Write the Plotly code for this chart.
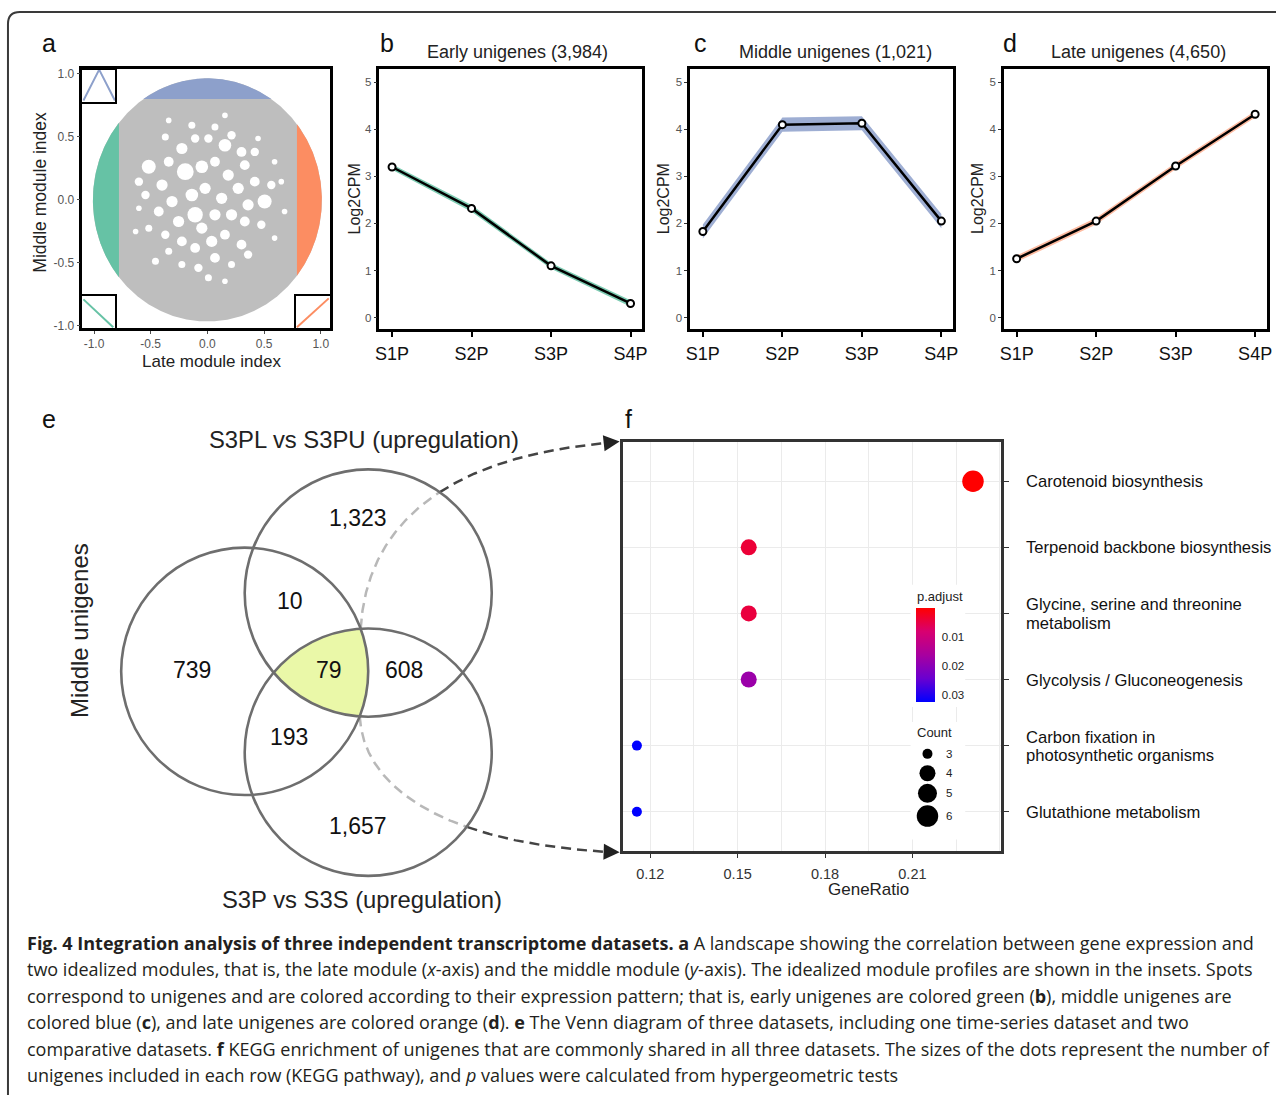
import numpy as np
import plotly.graph_objects as go

W, H = 1281, 1100
FONT = "Liberation Sans, Arial, sans-serif"
CAP_FONT = "Open Sans, Lato, sans-serif"

# ---------------- data ----------------
stages = ["S1P", "S2P", "S3P", "S4P"]
early_mean = [3.20, 2.32, 1.10, 0.30]
early_band = [0.06, 0.07, 0.06, 0.07]
middle_mean = [1.83, 4.10, 4.13, 2.05]
middle_band = [0.15, 0.15, 0.15, 0.15]
late_mean = [1.25, 2.05, 3.22, 4.32]
late_band = [0.07, 0.07, 0.07, 0.07]
profile_titles = ["Early unigenes (3,984)", "Middle unigenes (1,021)", "Late unigenes (4,650)"]
log_ticks = [0, 1, 2, 3, 4, 5]

# panel a: correlation landscape
landscape_radius = [1.01, 0.965]     # extent of the spot cloud (x, y)
early_cut = -0.78                    # late-module index below -> early unigenes
late_cut = 0.79                      # late-module index above -> late unigenes
middle_cut = 0.80                    # middle-module index above -> middle unigenes
# empty spots (gaps between unigene spots) read from the landscape: late index, middle index, size
gap_late = [-0.137, 0.155, 0.067, -0.341, -0.371, -0.225, -0.108, 0.009, 0.155, 0.213, 0.301, 0.418,
            -0.517, -0.341, -0.195, -0.049, 0.067, 0.184, 0.330, 0.418, 0.505, 0.564, -0.604, -0.546,
            -0.400, -0.312, -0.137, -0.020, 0.126, 0.272, 0.359, -0.429, -0.254, -0.108, -0.049, 0.067,
            0.213, 0.330, 0.476, -0.517, -0.371, -0.225, -0.108, 0.038, 0.155, 0.301, 0.067, -0.341,
            -0.458, -0.225, -0.079, 0.213, 0.359, 0.009, 0.155, -0.633, -0.604, 0.593, 0.652, 0.681,
            0.447, 0.593]
gap_middle = [0.592, 0.671, 0.579, 0.631, 0.500, 0.408, 0.487, 0.487, 0.434, 0.513, 0.381, 0.381,
              0.263, 0.303, 0.224, 0.263, 0.303, 0.197, 0.276, 0.145, -0.013, 0.118, 0.145, 0.039,
              0.118, -0.013, 0.039, 0.092, 0.013, 0.092, -0.039, -0.092, -0.171, -0.118, -0.224, -0.118,
              -0.118, -0.171, -0.197, -0.224, -0.276, -0.329, -0.381, -0.329, -0.276, -0.355, -0.460, -0.408,
              -0.487, -0.513, -0.539, -0.513, -0.434, -0.618, -0.645, -0.250, -0.066, -0.303, 0.145, -0.092,
              0.487, 0.303]
gap_size = [5, 4, 5, 4, 5, 8, 6, 6, 9, 6, 7, 6,
            10, 7, 12, 9, 7, 8, 7, 7, 10, 6, 6, 6,
            8, 8, 9, 8, 8, 8, 8, 7, 8, 11, 8, 8,
            8, 7, 6, 5, 6, 7, 7, 8, 7, 7, 7, 5,
            5, 5, 6, 5, 6, 5, 4, 4, 4, 4, 4, 4,
            4, 4]
module_ticks = [-1.0, -0.5, 0.0, 0.5, 1.0]
module_ticktext = ["-1.0", "-0.5", "0.0", "0.5", "1.0"]
ideal_middle = [0, 1, 0]
ideal_early = [1, 0]
ideal_late = [0, 1]

# panel e: Venn
venn_sets = ["Middle unigenes", "S3PL vs S3PU (upregulation)", "S3P vs S3S (upregulation)"]
venn_counts = {"M": 739, "U": 1323, "S": 1657, "MU": 10, "MS": 193, "US": 608, "MUS": 79}

# panel f: KEGG enrichment
pathways = ["Carotenoid biosynthesis", "Terpenoid backbone biosynthesis",
            "Glycine, serine and threonine<br>metabolism", "Glycolysis / Gluconeogenesis",
            "Carbon fixation in<br>photosynthetic organisms", "Glutathione metabolism"]
gene_ratio = [0.2308, 0.1538, 0.1538, 0.1538, 0.1154, 0.1154]
counts = [6, 4, 4, 4, 3, 3]
p_adjust = [0.00002, 0.0040, 0.0045, 0.0180, 0.0326, 0.0326]
ratio_ticks = [0.12, 0.15, 0.18, 0.21]
padj_ticks = [0.01, 0.02, 0.03]
count_levels = [3, 4, 5, 6]

caption_lines = [
    "<b>Fig. 4 Integration analysis of three independent transcriptome datasets. a</b> A landscape showing the correlation between gene expression and",
    "two idealized modules, that is, the late module (<i>x</i>-axis) and the middle module (<i>y</i>-axis). The idealized module profiles are shown in the insets. Spots",
    "correspond to unigenes and are colored according to their expression pattern; that is, early unigenes are colored green (<b>b</b>), middle unigenes are",
    "colored blue (<b>c</b>), and late unigenes are colored orange (<b>d</b>). <b>e</b> The Venn diagram of three datasets, including one time-series dataset and two",
    "comparative datasets. <b>f</b> KEGG enrichment of unigenes that are commonly shared in all three datasets. The sizes of the dots represent the number of",
    "unigenes included in each row (KEGG pathway), and <i>p</i> values were calculated from hypergeometric tests",
]

# ---------------- style ----------------
GREEN, BLUE, ORANGE, GRAY = "#66c2a5", "#8da0cb", "#fc8d62", "#bebebe"
size_px = {3: 10, 4: 16, 5: 19, 6: 21.5}


def xd(a, b):
    return [a / W, b / W]


def yd(a, b):
    return [1 - b / H, 1 - a / H]


fig = go.Figure()
annotations = []
shapes = []

# ---------------- panel a ----------------
rx, ry = landscape_radius
t = np.linspace(0, 2 * np.pi, 721)
fig.add_trace(go.Scatter(x=rx * np.cos(t), y=ry * np.sin(t), fill="toself", fillcolor=GRAY,
                         mode="lines", line=dict(width=0), xaxis="x", yaxis="y", hoverinfo="skip"))
fig.add_trace(go.Scatter(x=gap_late, y=gap_middle, mode="markers",
                         marker=dict(size=[s * 1.4 for s in gap_size], color="white", opacity=1,
                                     line=dict(width=0)),
                         xaxis="x", yaxis="y", hoverinfo="skip"))
a0 = np.arccos(early_cut / rx)
tg = np.linspace(a0, 2 * np.pi - a0, 200)
fig.add_trace(go.Scatter(x=rx * np.cos(tg), y=ry * np.sin(tg), fill="toself", fillcolor=GREEN,
                         mode="lines", line=dict(width=0), xaxis="x", yaxis="y", hoverinfo="skip"))
a1 = np.arccos(late_cut / rx)
to = np.linspace(-a1, a1, 200)
fig.add_trace(go.Scatter(x=rx * np.cos(to), y=ry * np.sin(to), fill="toself", fillcolor=ORANGE,
                         mode="lines", line=dict(width=0), xaxis="x", yaxis="y", hoverinfo="skip"))
a2 = np.arcsin(middle_cut / ry)
tb = np.linspace(a2, np.pi - a2, 200)
fig.add_trace(go.Scatter(x=rx * np.cos(tb), y=ry * np.sin(tb), fill="toself", fillcolor=BLUE,
                         mode="lines", line=dict(width=0), xaxis="x", yaxis="y", hoverinfo="skip"))

# insets
fig.add_trace(go.Scatter(x=[0, 1, 2], y=ideal_middle, mode="lines", line=dict(color=BLUE, width=2),
                         xaxis="x2", yaxis="y2", hoverinfo="skip"))
fig.add_trace(go.Scatter(x=[0, 1], y=ideal_early, mode="lines", line=dict(color=GREEN, width=2),
                         xaxis="x3", yaxis="y3", hoverinfo="skip"))
fig.add_trace(go.Scatter(x=[0, 1], y=ideal_late, mode="lines", line=dict(color=ORANGE, width=2),
                         xaxis="x4", yaxis="y4", hoverinfo="skip"))

# ---------------- panels b, c, d ----------------
profiles = [(early_mean, early_band, "rgba(102,194,165,0.85)"),
            (middle_mean, middle_band, "rgba(141,160,203,0.85)"),
            (late_mean, late_band, "rgba(252,141,98,0.6)")]
for i, (mean, band, fc) in enumerate(profiles):
    ax = str(5 + i)
    up = [m + b for m, b in zip(mean, band)]
    lo = [m - b for m, b in zip(mean, band)]
    fig.add_trace(go.Scatter(x=stages + stages[::-1], y=up + lo[::-1], fill="toself", fillcolor=fc,
                             mode="lines", line=dict(width=0), xaxis="x" + ax, yaxis="y" + ax,
                             hoverinfo="skip"))
    fig.add_trace(go.Scatter(x=stages, y=mean, mode="lines+markers",
                             line=dict(color="black", width=2.5),
                             marker=dict(symbol="circle", size=7, color="white", opacity=1,
                                         line=dict(color="black", width=2)),
                             xaxis="x" + ax, yaxis="y" + ax, hoverinfo="skip"))

# ---------------- panel f ----------------
fig.add_trace(go.Scatter(
    x=gene_ratio, y=pathways, mode="markers", xaxis="x8", yaxis="y8",
    marker=dict(size=[size_px[c] for c in counts], color=[-p for p in p_adjust], opacity=1,
                colorscale=[[0, "#0000ff"], [0.25, "#6a00d0"], [0.5, "#a8009f"],
                            [0.75, "#d80070"], [1, "#ff0000"]],
                line=dict(width=0), showscale=True,
                colorbar=dict(x=918 / W, xanchor="left", y=1 - 657.9 / H, yanchor="middle",
                              len=94.3, lenmode="pixels", thickness=18.5, thicknessmode="pixels",
                              outlinewidth=0, ticks="outside", tickcolor="rgba(0,0,0,0)", ticklen=5,
                              tickvals=[-v for v in padj_ticks], ticktext=[f"{v:.2f}" for v in padj_ticks],
                              tickfont=dict(family=FONT, size=11.5, color="#222"), xpad=0, ypad=0)),
    hoverinfo="skip"))

# legend backgrounds (hide gridlines)
f_xr = [0.1105, 0.2404]
f_yr = [-0.6, 5.6]
F_LEFT, F_RIGHT, F_TOP, F_BOTTOM = 623, 1004, 443, 855


def fx(p):
    return f_xr[0] + (p - F_LEFT) / (F_RIGHT - F_LEFT) * (f_xr[1] - f_xr[0])


def fy(p):
    return f_yr[0] + (F_BOTTOM - p) / (F_BOTTOM - F_TOP) * (f_yr[1] - f_yr[0])


def fy_px(idx):
    return F_BOTTOM - (idx - f_yr[0]) / (f_yr[1] - f_yr[0]) * (F_BOTTOM - F_TOP)


for (y0, y1) in [(587, 710), (725, 843)]:
    shapes.append(dict(type="rect", xref="x8", yref="y8", x0=fx(913), x1=fx(968), y0=fy(y1), y1=fy(y0),
                       fillcolor="white", line=dict(width=0), layer="between"))
# white tick dashes on the colour bar
for v in padj_ticks:
    yy = 705 - (v + 0.0005) / 0.0331 * 94.3
    for (xa, xb) in [(918, 922), (933, 937)]:
        shapes.append(dict(type="line", xref="x9", yref="y9", x0=xa, x1=xb, y0=yy, y1=yy,
                           line=dict(color="white", width=1.2), layer="above"))

# pathway labels (right side), placed at each category row
cat_order = pathways[::-1]
for name in pathways:
    row_px = fy_px(cat_order.index(name))
    parts = name.split("<br>")
    offs = [0.5] if len(parts) == 1 else [-8.5, 10]
    for part, off in zip(parts, offs):
        annotations.append(dict(x=1027, y=row_px + off, xref="x9", yref="y9", text=part,
                                showarrow=False, xanchor="left", yanchor="middle",
                                font=dict(family=FONT, size=16.6, color="#111")))

# ---------------- overlay: Venn, arrows, legend ----------------
circles = [(242.4, 674.0), (366.8, 595.3), (366.8, 755.3)]
R = 124.4
tt = np.linspace(0, 2 * np.pi, 2000)
pts = []
for k, (cx, cy) in enumerate(circles):
    bx, by = cx + R * np.cos(tt), cy + R * np.sin(tt)
    ok = np.ones_like(bx, dtype=bool)
    for j, (ox, oy) in enumerate(circles):
        if j != k:
            ok &= (bx - ox) ** 2 + (by - oy) ** 2 <= R ** 2 + 1e-6
    pts.append(np.c_[bx[ok], by[ok]])
pts = np.vstack(pts)
cen = pts.mean(axis=0)
order = np.argsort(np.arctan2(pts[:, 1] - cen[1], pts[:, 0] - cen[0]))
pts = pts[order]
fig.add_trace(go.Scatter(x=pts[:, 0], y=pts[:, 1], fill="toself", fillcolor="#eaf8a8", mode="lines",
                         line=dict(width=0), xaxis="x9", yaxis="y9", hoverinfo="skip"))


def inter(c1, c2, upper=True):
    (x1, y1), (x2, y2) = c1, c2
    d = np.hypot(x2 - x1, y2 - y1)
    a = d / 2
    h = np.sqrt(R ** 2 - a ** 2)
    mx, my = (x1 + x2) / 2, (y1 + y2) / 2
    ux, uy = (x2 - x1) / d, (y2 - y1) / d
    p1 = (mx + uy * h, my - ux * h)
    p2 = (mx - uy * h, my + ux * h)
    return min(p1, p2, key=lambda p: p[1]) if upper else max(p1, p2, key=lambda p: p[1])


def bez(P0, P1, P2, P3, n=300):
    s = np.linspace(0, 1, n)[:, None]
    P0, P1, P2, P3 = map(np.array, (P0, P1, P2, P3))
    return (1 - s) ** 3 * P0 + 3 * (1 - s) ** 2 * s * P1 + 3 * (1 - s) * s ** 2 * P2 + s ** 3 * P3


top_start = inter(circles[0], circles[2], upper=True)
bot_start = inter(circles[0], circles[1], upper=False)
arcs = [(bez(top_start, (365, 530), (440, 460), (604, 444.7)), circles[1], (620, 443), (604, 444.7)),
        (bez(bot_start, (362, 790), (440, 845), (604, 855.4)), circles[2], (620, 856), (604, 855.4))]
for curve, (ccx, ccy), tip, base in arcs:
    inside = (curve[:, 0] - ccx) ** 2 + (curve[:, 1] - ccy) ** 2 < R ** 2
    k = int(np.argmin(inside))
    fig.add_trace(go.Scatter(x=curve[:k + 1, 0], y=curve[:k + 1, 1], mode="lines",
                             line=dict(color="#b8b8b8", width=2.5, dash="10px,6px"),
                             xaxis="x9", yaxis="y9", hoverinfo="skip"))
    fig.add_trace(go.Scatter(x=curve[k:, 0], y=curve[k:, 1], mode="lines",
                             line=dict(color="#444444", width=2.5, dash="10px,6px"),
                             xaxis="x9", yaxis="y9", hoverinfo="skip"))
    annotations.append(dict(x=tip[0], y=tip[1], ax=base[0], ay=base[1], xref="x9", yref="y9",
                            axref="x9", ayref="y9", showarrow=True, arrowhead=2, arrowsize=1.6,
                            arrowwidth=2, arrowcolor="#222", text=""))

for (cx, cy) in circles:
    shapes.append(dict(type="circle", xref="x9", yref="y9", x0=cx - R, x1=cx + R, y0=cy - R, y1=cy + R,
                       line=dict(color="#6e6e6e", width=2.6), layer="above"))

venn_pos = {"U": (357, 520), "MU": (288, 603), "M": (189, 673), "MUS": (327, 673),
            "US": (403, 673), "MS": (287, 740), "S": (357, 830)}
for key, (vx, vy) in venn_pos.items():
    annotations.append(dict(x=vx, y=vy, xref="x9", yref="y9", text=f"{venn_counts[key]:,}",
                            showarrow=False, font=dict(family=FONT, size=23, color="#111")))
annotations.append(dict(x=363, y=441, xref="x9", yref="y9", text=venn_sets[1], showarrow=False,
                        font=dict(family=FONT, size=23.8, color="#222")))
annotations.append(dict(x=361, y=903, xref="x9", yref="y9", text=venn_sets[2], showarrow=False,
                        font=dict(family=FONT, size=23.8, color="#222")))
annotations.append(dict(x=76, y=633, xref="x9", yref="y9", text=venn_sets[0], showarrow=False,
                        textangle=-90, font=dict(family=FONT, size=24, color="#222")))

# Count legend
cnt_y = [757, 776.5, 796.7, 819.5]
fig.add_trace(go.Scatter(x=[930] * len(count_levels), y=cnt_y, mode="markers",
                         marker=dict(size=[size_px[c] for c in count_levels], color="black", opacity=1,
                                     line=dict(width=0)),
                         xaxis="x9", yaxis="y9", hoverinfo="skip"))
for c, yy in zip(count_levels, cnt_y):
    annotations.append(dict(x=951.7, y=yy, xref="x9", yref="y9", text=str(c), showarrow=False,
                            font=dict(family=FONT, size=11.5, color="#222")))
annotations.append(dict(x=917, y=736, xref="x9", yref="y9", text="Count", showarrow=False, xanchor="left",
                        font=dict(family=FONT, size=13, color="#222")))
annotations.append(dict(x=917, y=599, xref="x9", yref="y9", text="p.adjust", showarrow=False, xanchor="left",
                        font=dict(family=FONT, size=13, color="#222")))

# outer border
shapes.append(dict(type="path", xref="x9", yref="y9", path="M 4,1130 L 4,23 Q 4,11 16,11 L 1300,11",
                   line=dict(color="#3a3a3a", width=2), layer="above"))

# ---------------- text ----------------
for letter, (lx, ly) in {"a": (45, 42), "b": (386, 42), "c": (701, 42), "d": (1013, 42),
                         "e": (45, 420), "f": (629, 420)}.items():
    annotations.append(dict(x=lx, y=ly, xref="x9", yref="y9", text=letter, showarrow=False,
                            font=dict(family=FONT, size=25, color="#111")))
for title, cx in zip(profile_titles, [517, 837, 1143]):
    annotations.append(dict(x=cx, y=51.5, xref="x9", yref="y9", text=title, showarrow=False,
                            font=dict(family=FONT, size=18, color="#222")))
for cx in [353, 665, 981]:
    annotations.append(dict(x=cx, y=199, xref="x9", yref="y9", text="Log2CPM", showarrow=False,
                            textangle=-90, font=dict(family=FONT, size=16, color="#222")))
annotations.append(dict(x=209, y=362, xref="x9", yref="y9", text="Late module index", showarrow=False,
                        font=dict(family=FONT, size=17, color="#222")))
annotations.append(dict(x=36, y=192, xref="x9", yref="y9", text="Middle module index", showarrow=False,
                        textangle=-90, font=dict(family=FONT, size=17.5, color="#222")))
annotations.append(dict(x=871, y=893, xref="x9", yref="y9", text="GeneRatio", showarrow=False,
                        font=dict(family=FONT, size=17, color="#222")))
for i, line in enumerate(caption_lines):
    annotations.append(dict(x=21, y=947 + i * 26.6, xref="x9", yref="y9", text=line, showarrow=False,
                            xanchor="left", yanchor="middle",
                            font=dict(family=CAP_FONT, size=18, color="#231f20")))

# ---------------- axes ----------------
frame = dict(showline=True, mirror=True, linecolor="black", linewidth=2.5, showgrid=False, zeroline=False)
tickA = dict(ticks="outside", ticklen=3, tickcolor="#4d4d4d", tickfont=dict(family=FONT, size=12, color="#555"))
tickB = dict(ticks="outside", ticklen=3, tickcolor="#333", tickfont=dict(family=FONT, size=11.5, color="#555"))
blank = dict(showticklabels=False, ticks="", showgrid=False, zeroline=False, showline=True, mirror=True,
             linecolor="black", linewidth=2)

layout = dict(
    width=W, height=H, autosize=False, margin=dict(l=0, r=0, t=0, b=0, pad=0),
    paper_bgcolor="white", plot_bgcolor="rgba(0,0,0,0)", showlegend=False,
    xaxis=dict(domain=xd(79, 328), range=[-1.102, 1.079], anchor="y", tickvals=module_ticks,
               ticktext=module_ticktext, ticklabelstandoff=0, **frame, **tickA),
    yaxis=dict(domain=yd(68, 329), range=[-1.018, 1.042], anchor="x", tickvals=module_ticks,
               ticktext=module_ticktext, **frame, **tickA),
    xaxis2=dict(domain=xd(79, 112), range=[-0.063, 2.019], anchor="y2", **blank),
    yaxis2=dict(domain=yd(69, 102), range=[-0.065, 1.0], anchor="x2", **blank),
    xaxis3=dict(domain=xd(79, 112), range=[-0.033, 1.067], anchor="y3", **blank),
    yaxis3=dict(domain=yd(297, 329), range=[-0.036, 1.107], anchor="x3", **blank),
    xaxis4=dict(domain=xd(294, 328), range=[-0.031, 1.031], anchor="y4", **blank),
    yaxis4=dict(domain=yd(297, 329), range=[-0.034, 1.069], anchor="x4", **blank),
    annotations=annotations, shapes=shapes,
)
for i, (x0, x1) in enumerate([(378, 643), (691, 956), (1007, 1272)]):
    n = str(5 + i)
    layout["xaxis" + n] = dict(domain=xd(x0, x1), type="category", range=[-0.16, 3.15], anchor="y" + n,
                               ticks="outside", ticklen=5, tickwidth=1.5, tickcolor="black",
                               tickfont=dict(family=FONT, size=18, color="#111"), ticklabelstandoff=1,
                               **frame)
    layout["yaxis" + n] = dict(domain=yd(68, 330), range=[-0.247, 5.29], anchor="x" + n, tickvals=log_ticks,
                               **frame, **tickB)
layout["xaxis8"] = dict(domain=xd(F_LEFT, F_RIGHT), range=f_xr, anchor="y8", tickvals=ratio_ticks,
                        ticktext=[f"{v:.2f}" for v in ratio_ticks], showline=True, mirror=True,
                        linecolor="#333", linewidth=2.5, zeroline=False, showgrid=True, gridcolor="#ebebeb",
                        gridwidth=1.3, minor=dict(dtick=0.015, tick0=0.105, showgrid=True, gridcolor="#ebebeb",
                                                  gridwidth=1.3, ticks=""),
                        ticks="outside", ticklen=4, tickcolor="#333",
                        tickfont=dict(family=FONT, size=14.5, color="#333"), ticklabelstandoff=4)
layout["yaxis8"] = dict(domain=yd(F_TOP, F_BOTTOM), range=f_yr, anchor="x8", type="category",
                        categoryorder="array", categoryarray=cat_order, side="right",
                        showline=True, mirror=True, linecolor="#333", linewidth=2.5, zeroline=False,
                        showgrid=True, gridcolor="#ebebeb", gridwidth=1.3, ticks="outside", ticklen=5,
                        tickcolor="#333", showticklabels=False)
layout["xaxis9"] = dict(domain=[0, 1], range=[0, W], anchor="y9", visible=False, fixedrange=True)
layout["yaxis9"] = dict(domain=[0, 1], range=[H, 0], anchor="x9", visible=False, fixedrange=True)

fig.update_layout(**layout)
fig.write_html("out.html")
